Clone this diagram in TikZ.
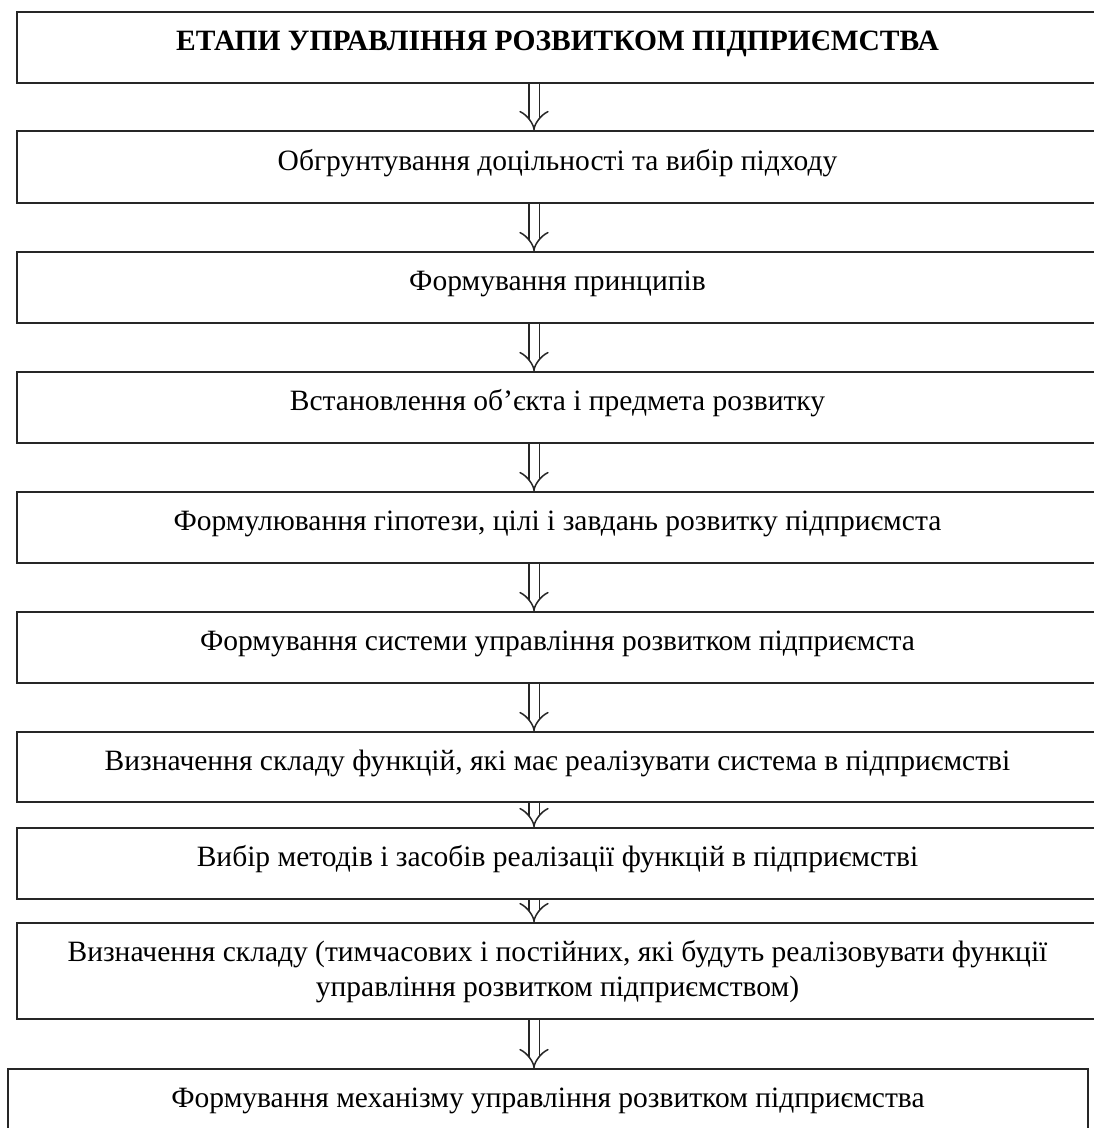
\documentclass[tikz,border=0pt]{standalone}
\usepackage{fontspec}
\setmainfont{Liberation Serif}
\usetikzlibrary{arrows.meta}

\tikzset{
  etap/.style={draw=black!85, line width=1.6pt, rectangle, inner sep=0pt,
    minimum width=1081pt, minimum height=71pt, align=center,
    font=\fontsize{29.5}{35}\selectfont, text height=21pt, text depth=15pt},
  strilka/.style={draw=black!85, line width=1.5pt, double, double distance=9pt, -{Implies}},
}

\begin{document}
\begin{tikzpicture}[x=1pt, y=-1pt]
\useasboundingbox (0,0) rectangle (1094,1128);
% etapy
\node[etap, font=\fontsize{29.5}{35}\selectfont\bfseries] (e1) at (557.5,47.5) {ЕТАПИ УПРАВЛІННЯ РОЗВИТКОМ ПІДПРИЄМСТВА};
\node[etap, minimum height=72pt] (e2) at (557.5,167) {Обгрунтування доцільності та вибір підходу};
\node[etap] (e3) at (557.5,287.5) {Формування принципів};
\node[etap] (e4) at (557.5,407.5) {Встановлення об’єкта і предмета розвитку};
\node[etap] (e5) at (557.5,527.5) {Формулювання гіпотези, цілі і завдань розвитку підприємста};
\node[etap] (e6) at (557.5,647.5) {Формування системи управління розвитком підприємста};
\node[etap, minimum height=70pt] (e7) at (557.5,767) {Визначення складу функцій, які має реалізувати система в підприємстві};
\node[etap] (e8) at (557.5,863.5) {Вибір методів і засобів реалізації функцій в підприємстві};
\node[etap, minimum height=96pt, text height=56pt, text depth=6pt] (e9) at (557.5,971) {Визначення складу (тимчасових і постійних, які будуть реалізовувати функції\\ управління розвитком підприємством)};
\node[etap, minimum width=1080pt] (e10) at (548,1104.5) {Формування механізму управління розвитком підприємства};
% strilky
\coordinate (os) at (534,0);
\draw[strilka] (e1.south -| os) -- (e2.north -| os);
\draw[strilka] (e2.south -| os) -- (e3.north -| os);
\draw[strilka] (e3.south -| os) -- (e4.north -| os);
\draw[strilka] (e4.south -| os) -- (e5.north -| os);
\draw[strilka] (e5.south -| os) -- (e6.north -| os);
\draw[strilka] (e6.south -| os) -- (e7.north -| os);
\draw[strilka] (e7.south -| os) -- (e8.north -| os);
\draw[strilka] (e8.south -| os) -- (e9.north -| os);
\draw[strilka] (e9.south -| os) -- (e10.north -| os);
\end{tikzpicture}
\end{document}
